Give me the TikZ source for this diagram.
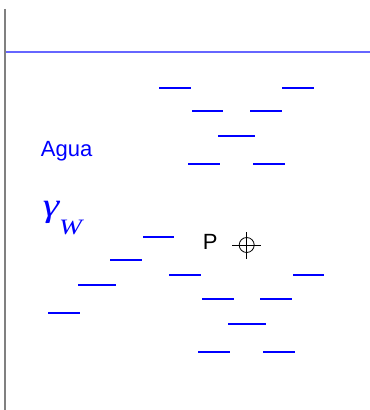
\documentclass[tikz,border=0pt]{standalone}
\usepackage{fontspec}
\setmainfont{Liberation Sans}
\newfontfamily\serifgr{Liberation Serif}
\usepackage{xcolor}
\usepackage{tikz}
\definecolor{agua}{HTML}{0000FF}
\definecolor{muro}{HTML}{808080}

\begin{document}
\begin{tikzpicture}[x=0.75pt, y=-0.75pt,
  nivel/.style={draw=agua, line width=0.8pt},
  superficie/.style={draw=agua!60, line width=1.1pt},
  pared/.style={draw=muro, line width=1.5pt},
  rotulo/.style={anchor=base west, inner sep=0pt, font=\fontsize{16.5}{18}\selectfont},
  mira/.style={draw=black, line width=0.6pt}
]
\useasboundingbox (0,0) rectangle (370,410);

% pared y superficie libre
\coordinate (pa) at (5,9);
\coordinate (pb) at (5,410);
\coordinate (sa) at (6,52);
\coordinate (sb) at (370,52);
\draw[pared] (pa) -- (pb);
\draw[superficie] (sa) -- (sb);

% marcas de nivel
\draw[nivel] (159,88) -- (191,88);
\draw[nivel] (282,88) -- (314,88);
\draw[nivel] (192,111) -- (223,111);
\draw[nivel] (250,111) -- (282,111);
\draw[nivel] (218,136) -- (255,136);
\draw[nivel] (188,164) -- (220,164);
\draw[nivel] (253,164) -- (285,164);
\draw[nivel] (143,237) -- (174,237);
\draw[nivel] (110,260) -- (142,260);
\draw[nivel] (169,275) -- (201,275);
\draw[nivel] (293,275) -- (324,275);
\draw[nivel] (78,285) -- (116,285);
\draw[nivel] (202,299) -- (234,299);
\draw[nivel] (260,299) -- (292,299);
\draw[nivel] (48,313) -- (80,313);
\draw[nivel] (228,324) -- (266,324);
\draw[nivel] (198,352) -- (230,352);
\draw[nivel] (263,352) -- (295,352);

% rotulos
\node[rotulo, text=agua] (agua) at (40.7,156) {Agua};
\node[anchor=base west, inner sep=0pt, text=agua, font=\serifgr\itshape\fontsize{25}{27}\selectfont] (gw) at (42.5,216) {\scalebox{1.25}[1]{γ}\raisebox{-13.5pt}{\fontsize{16.5}{18}\selectfont\scalebox{1.25}[1]{W}}};
\node[rotulo, text=black, font=\fontsize{16.5}{18}\selectfont] (p) at (202.5,249.7) {P};

% punto P
\coordinate (c) at (246.7,245);
\draw[mira] (c) circle[radius=7.5];
\draw[mira] ([xshift=-14.5*0.75pt]c) -- ([xshift=14.5*0.75pt]c);
\draw[mira] ([yshift=-13.5*0.75pt]c) -- ([yshift=13.5*0.75pt]c);
\end{tikzpicture}
\end{document}
